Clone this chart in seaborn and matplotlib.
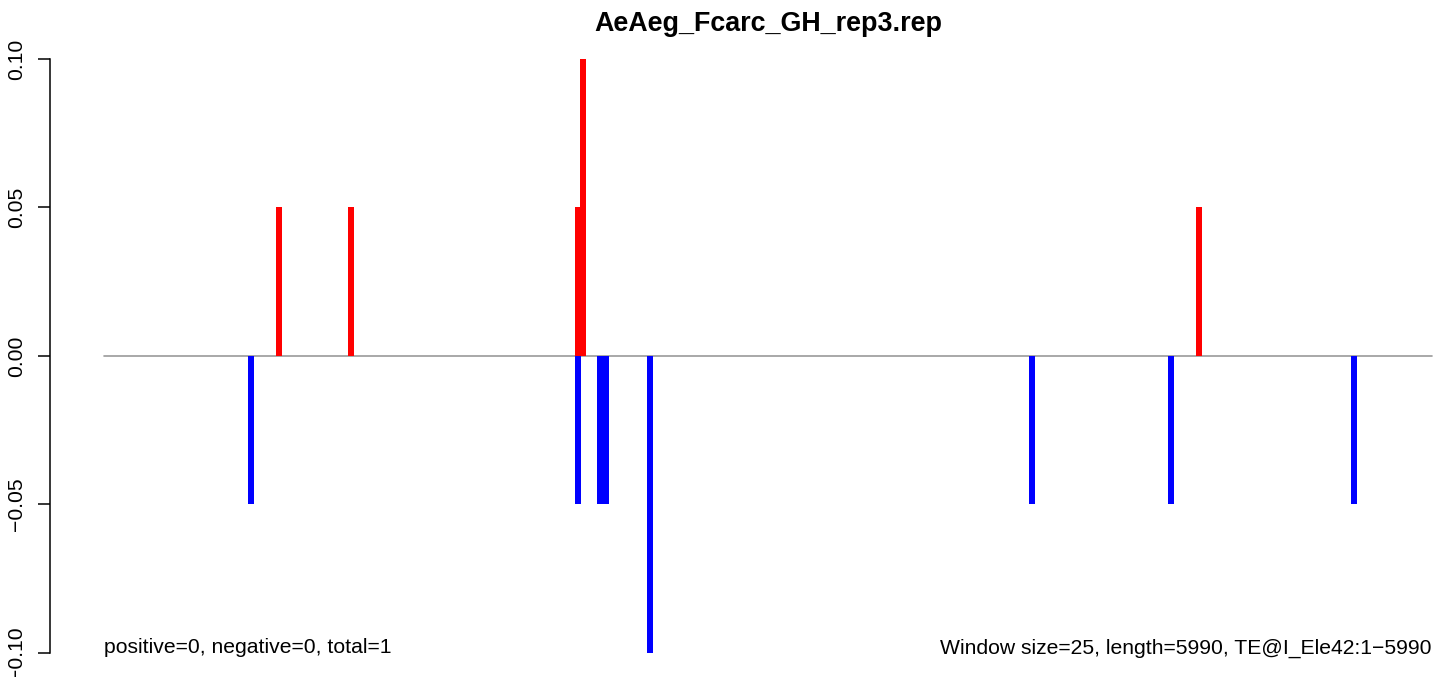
import pandas as pd
import seaborn as sns
import matplotlib.pyplot as plt

title = "AeAeg_Fcarc_GH_rep3.rep"
seq_length = 5990
window = 25

# window start positions (bp) and values
pos_starts = [775, 1100, 2125, 2150, 4925]
pos_values = [0.05, 0.05, 0.05, 0.10, 0.05]
neg_starts = [650, 2125, 2225, 2250, 2450, 4175, 4800, 5625]
neg_values = [-0.05, -0.05, -0.05, -0.05, -0.10, -0.05, -0.05, -0.05]

y_ticks = [-0.10, -0.05, 0.00, 0.05, 0.10]
left_note = "positive=0, negative=0, total=1"
right_note = "Window size=25, length=5990, TE@I_Ele42:1\u22125990"

df = pd.DataFrame({
    "pos": [s + window / 2 for s in pos_starts + neg_starts],
    "value": pos_values + neg_values,
    "sign": ["pos"] * len(pos_starts) + ["neg"] * len(neg_starts),
})

sns.set_style("white")
plt.rcParams["font.family"] = ["Liberation Sans", "DejaVu Sans"]
plt.rcParams["text.color"] = "black"
plt.rcParams["ytick.color"] = "black"

W, H = 1452, 677
fig = plt.figure(figsize=(W / 100, H / 100), dpi=100)

# pixel geometry of the reference plot
x0_px, x1_px = 104, 1432          # bp 0 and bp seq_length
zero_px, unit_px = 356, 2970      # y=0 and pixels per 1.0
ax_left_px = 50
ylim = (-0.108, 0.108)
top_px = zero_px - ylim[1] * unit_px
bot_px = zero_px - ylim[0] * unit_px
ax = fig.add_axes([ax_left_px / W, 1 - bot_px / H, (W - ax_left_px) / W, (bot_px - top_px) / H])

bp_per_px = seq_length / (x1_px - x0_px)
xlim = ((ax_left_px - x0_px) * bp_per_px, (W - x0_px) * bp_per_px)

ax.plot([0, seq_length], [0, 0], color="#9a9a9a", lw=1.2, zorder=1)

sns.barplot(data=df, x="pos", y="value", hue="sign", native_scale=True,
            dodge=False, width=1.08, palette={"pos": "#ff0000", "neg": "#0000ff"},
            saturation=1, legend=False, linewidth=0, ax=ax, zorder=2)

ax.set_xlim(*xlim)
ax.set_ylim(*ylim)

for s in ["top", "right", "bottom"]:
    ax.spines[s].set_visible(False)
ax.spines["left"].set_bounds(-0.10, 0.10)
ax.spines["left"].set_linewidth(1.1)
ax.spines["left"].set_color("black")
ax.set_xticks([])
ax.set_yticks(y_ticks)
ax.set_yticklabels([f"{v:.2f}".replace("-", "\u2212") for v in y_ticks],
                   rotation=90, va="center", fontsize=15.2)
ax.tick_params(axis="y", direction="out", length=9, width=1.1, pad=8, left=True,
               colors="black")
ax.set_xlabel("")
ax.set_ylabel("")

ax.text(0, -0.0983, left_note, ha="left", va="center", fontsize=15.2)
ax.text(seq_length, -0.0983, right_note, ha="right", va="center", fontsize=15.2)

fig.text(768 / W, 1 - 24 / H, title, ha="center", va="center",
         fontsize=19.4, fontweight="bold")

fig.savefig("out.png", dpi=100)
